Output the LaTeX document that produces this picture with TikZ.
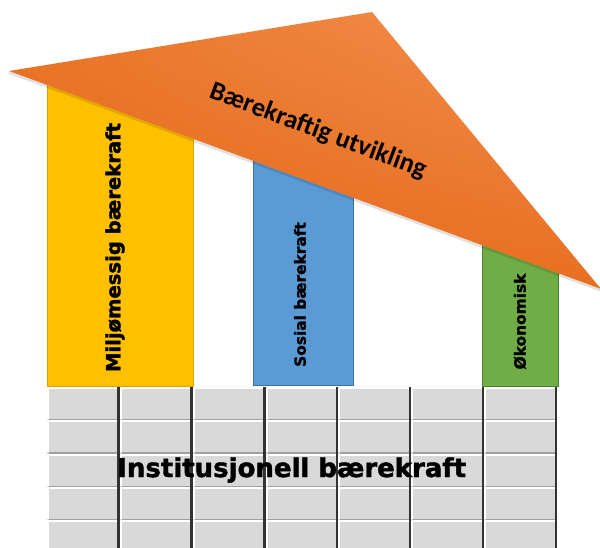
\documentclass[tikz,border=0pt]{standalone}
\usepackage{fontspec}
\usetikzlibrary{shadings}
\newfontfamily\heavy{DejaVu Sans Bold}[FakeBold=1.6]
\newfontfamily\carlitob{Carlito Bold}
\definecolor{yel}{HTML}{FFC000}
\definecolor{yelB}{HTML}{D9A400}
\definecolor{blu}{HTML}{5B9BD5}
\definecolor{bluB}{HTML}{41719C}
\definecolor{grn}{HTML}{70AD47}
\definecolor{grnB}{HTML}{507E32}
\definecolor{orUL}{HTML}{EA7628}
\definecolor{orUR}{HTML}{F39152}
\definecolor{orLL}{HTML}{E2661A}
\definecolor{orLR}{HTML}{E86F20}
\definecolor{brk}{HTML}{D9D9D9}
\definecolor{brkS}{HTML}{A0A0A0}
\definecolor{brkD}{HTML}{333333}
\begin{document}
\begin{tikzpicture}[x=1pt,y=-1pt,
  pillarbox/.style={line width=0.7pt},
  pillartext/.style={rotate=90,inner sep=0pt,font=\heavy\fontsize{15.4}{18}\selectfont},
  bigpillartext/.style={rotate=90,inner sep=0pt,font=\heavy\fontsize{19.6}{23}\selectfont},
  rooftext/.style={rotate=-20.5,inner sep=0pt,font=\carlitob\fontsize{26.5}{30}\selectfont},
  walltext/.style={inner sep=0pt,font=\heavy\fontsize{26}{30}\selectfont},
  brickfill/.style={fill=brk},
  brickhl/.style={draw=white,line width=2pt},
  bricksh/.style={draw=brkS,line width=1.2pt},
  brickdk/.style={draw=brkD,line width=2.4pt}]
\useasboundingbox (0,0) rectangle (600,548);
\fill[white] (0,0) rectangle (600,548);
% pillars
\filldraw[pillarbox,fill=yel,draw=yelB] (47.5,75) rectangle (193,386);
\filldraw[pillarbox,fill=blu,draw=bluB] (253,150) rectangle (353.5,385);
\filldraw[pillarbox,fill=grn,draw=grnB] (482,244) rectangle (558.5,386);
% wall of bricks
\begin{scope}
\clip (0,0) rectangle (600,548);
\foreach \i in {0,...,6}{
 \foreach \j in {0,...,4}{
  \pgfmathsetmacro\xa{47+72.857*\i}
  \pgfmathsetmacro\xb{\xa+72.857}
  \pgfmathsetmacro\ya{387+33.33*\j}
  \pgfmathsetmacro\yb{\ya+33.33}
  \fill[brickfill] (\xa,\ya) rectangle (\xb,\yb);
  \draw[bricksh] (\xa+2,\yb-0.7) -- (\xb-1.5,\yb-0.7);
  \draw[brickhl] (\xa+1,\yb-1.4) -- (\xa+1,\ya+1) -- (\xb-2.4,\ya+1);
  \draw[brickdk] (\xb-1.2,\ya) -- (\xb-1.2,\yb);
 }}
\end{scope}
% roof
\coordinate (rl) at (9,71);
\coordinate (rt) at (372,12);
\coordinate (rr) at (601,289);
\draw[black,opacity=0.12,line width=2.5pt] ([yshift=-1.5pt]rl) -- ([yshift=-1.5pt]rr);
\shade[upper left=orUL, upper right=orUR, lower left=orLL, lower right=orLR] (rl) -- (rt) -- (rr) -- cycle;
% texts
\node[rooftext] (roof) at (318,131) {Bærekraftig utvikling};
\node[bigpillartext] (miljo) at (115,247.5) {Miljømessig bærekraft};
\node[pillartext] (sosial) at (300,294.5) {Sosial bærekraft};
\node[pillartext] (okon) at (520,321.5) {Økonomisk};
\node[walltext,anchor=base] (inst) at (291.7,477) {Institusjonell bærekraft};
\end{tikzpicture}
\end{document}
